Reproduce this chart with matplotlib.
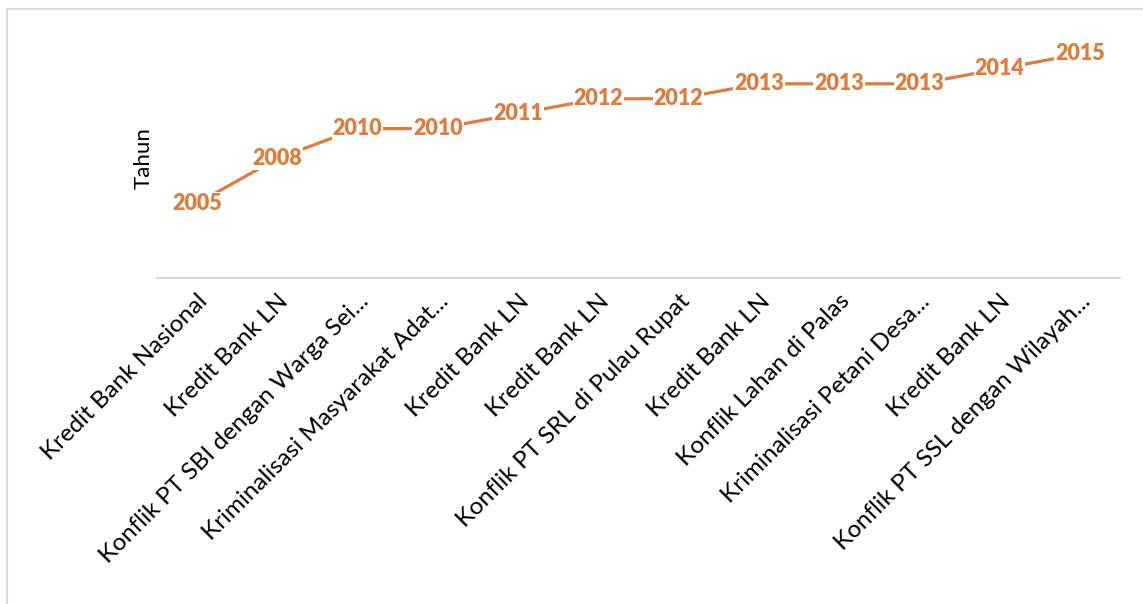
import matplotlib.pyplot as plt
from matplotlib.patches import Rectangle

# ── DATA ────────────────────────────────────────────────────────────
categories = [
    "Kredit Bank Nasional",
    "Kredit Bank LN",
    "Konflik PT SBI dengan Warga Sei...",
    "Kriminalisasi Masyarakat Adat...",
    "Kredit Bank LN",
    "Kredit Bank LN",
    "Konflik PT SRL di Pulau Rupat",
    "Kredit Bank LN",
    "Konflik Lahan di Palas",
    "Kriminalisasi Petani Desa...",
    "Kredit Bank LN",
    "Konflik PT SSL dengan Wilayah...",
]
years = [2005, 2008, 2010, 2010, 2011, 2012, 2012, 2013, 2013, 2013, 2014, 2015]

LINE_COLOR = "#E07B3C"
GRID_GRAY = "#D9D9D9"

plt.rcParams["font.family"] = ["Lato", "DejaVu Sans"]

fig = plt.figure(figsize=(11.43, 6.04), dpi=100)
ax = fig.add_axes([157 / 1143, 326 / 604, 963 / 1143, 239 / 604])

x = list(range(len(categories)))
ax.plot(x, years, color=LINE_COLOR, linewidth=2.3, solid_capstyle="butt")

for xi, yi in zip(x, years):
    ax.text(xi, yi, str(yi), ha="center", va="center",
            fontsize=15.5, fontweight="heavy", color=LINE_COLOR,
            bbox=dict(facecolor="white", edgecolor="none", pad=0.6))

ax.set_xlim(-0.5, len(categories) - 0.5)
ax.set_ylim(2000, 2016)
ax.set_yticks([])
ax.set_xticks(x)
ax.set_xticklabels(categories, rotation=45, ha="right",
                   rotation_mode="anchor", fontsize=17.5)
ax.tick_params(axis="x", length=0, pad=9)

for side in ["left", "right", "top"]:
    ax.spines[side].set_visible(False)
ax.spines["bottom"].set_color(GRID_GRAY)
ax.spines["bottom"].set_linewidth(1.5)

ax.set_ylabel("Tahun", fontsize=16)
ax.yaxis.set_label_coords(-0.004, 0.5)

# chart frame like the spreadsheet chart border
fig.patches.append(Rectangle((7 / 1143, -0.05), 1.1, (604 - 9) / 604 + 0.05,
                             transform=fig.transFigure, fill=False,
                             edgecolor=GRID_GRAY, linewidth=1.5))

fig.savefig("out.png", dpi=100)
